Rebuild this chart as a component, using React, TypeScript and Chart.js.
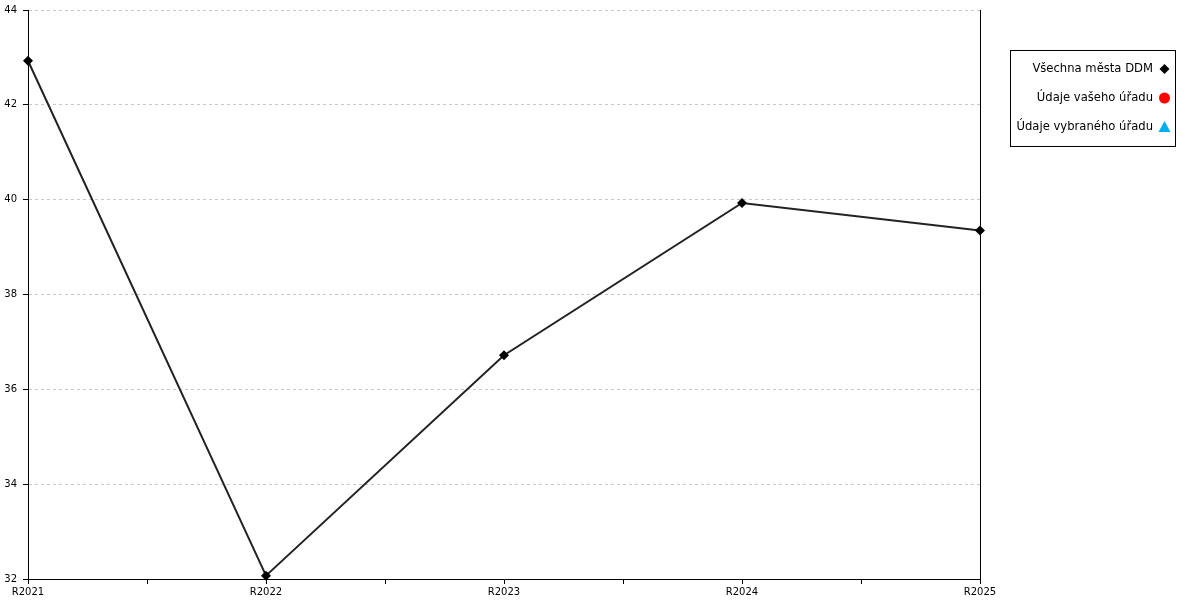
import React, { useEffect, useRef } from 'react';
import { Chart, registerables } from 'chart.js';

Chart.register(...registerables);

const categories = ['R2021', 'R2022', 'R2023', 'R2024', 'R2025'];
const allCitiesValues = [42.93, 32.07, 36.72, 39.93, 39.35];
const yourOfficeValues: number[] = [];
const selectedOfficeValues: number[] = [];
const seriesNames = ['Všechna města DDM', 'Údaje vašeho úřadu', 'Údaje vybraného úřadu'];
const yMin = 32;
const yMax = 44;
const yStep = 2;

const FONT = 'DejaVu Sans';

const legendPlugin = {
  id: 'customLegend',
  afterDraw(chart: any) {
    const ctx = chart.ctx;
    ctx.save();
    const ca = chart.chartArea;
    ctx.strokeStyle = '#000';
    ctx.lineWidth = 1;
    ctx.beginPath();
    ctx.moveTo(Math.round(ca.right) + 0.5, ca.top);
    ctx.lineTo(Math.round(ca.right) + 0.5, ca.bottom + 5);
    ctx.stroke();

    const bx = 1010.5, by = 50.5, bw = 165, bh = 96;
    ctx.strokeStyle = '#000';
    ctx.strokeRect(bx, by, bw, bh);
    ctx.font = `11.6px "${FONT}"`;
    ctx.textAlign = 'right';
    ctx.textBaseline = 'middle';
    const ds = chart.data.datasets;
    ds.forEach((d: any, i: number) => {
      const cy = 69 + i * 29;
      ctx.fillStyle = '#000';
      ctx.fillText(d.label, 1153, cy);
      const mx = 1164.5;
      ctx.fillStyle = d.pointBackgroundColor;
      ctx.beginPath();
      if (d.pointStyle === 'rectRot') {
        const r = 5;
        ctx.moveTo(mx - r, cy);
        ctx.lineTo(mx, cy - r);
        ctx.lineTo(mx + r, cy);
        ctx.lineTo(mx, cy + r);
        ctx.closePath();
      } else if (d.pointStyle === 'circle') {
        ctx.arc(mx, cy, 5.5, 0, Math.PI * 2);
      } else {
        ctx.moveTo(mx, cy - 6);
        ctx.lineTo(mx + 6, cy + 5);
        ctx.lineTo(mx - 6, cy + 5);
        ctx.closePath();
      }
      ctx.fill();
    });
    ctx.restore();
  },
};

export default function App() {
  const ref = useRef<HTMLCanvasElement>(null);
  useEffect(() => {
    if (!ref.current) return;
    const chart = new Chart(ref.current, {
      type: 'line',
      data: {
        datasets: [
          {
            label: seriesNames[0],
            data: allCitiesValues.map((v, i) => ({ x: i, y: v })),
            borderColor: '#222222',
            borderWidth: 2,
            pointStyle: 'rectRot',
            pointRadius: 5,
            pointBackgroundColor: '#000',
            pointBorderColor: '#000',
            pointBorderWidth: 0,
            tension: 0,
            clip: false,
          },
          {
            label: seriesNames[1],
            data: yourOfficeValues.map((v, i) => ({ x: i, y: v })),
            borderColor: '#ff0000',
            pointStyle: 'circle',
            pointBackgroundColor: '#ff0000',
          },
          {
            label: seriesNames[2],
            data: selectedOfficeValues.map((v, i) => ({ x: i, y: v })),
            borderColor: '#00aeef',
            pointStyle: 'triangle',
            pointBackgroundColor: '#00aeef',
          },
        ],
      },
      options: {
        responsive: false,
        animation: false,
        layout: { padding: { left: 0, top: 10, right: 220, bottom: 0 } },
        plugins: { legend: { display: false }, tooltip: { enabled: false } },
        scales: {
          x: {
            type: 'linear',
            min: 0,
            max: categories.length - 1,
            afterBuildTicks: (s: any) => {
              const t = [];
              for (let v = 0; v <= categories.length - 1 + 1e-9; v += 0.5) t.push({ value: v });
              s.ticks = t;
            },
            afterFit: (s: any) => {
              s.height = 21;
            },
            ticks: {
              autoSkip: false,
              maxRotation: 0,
              padding: 2,
              color: '#000',
              font: { family: FONT, size: 10 },
              callback: (v: any) => (Number.isInteger(v) ? categories[v] : ''),
            },
            grid: {
              drawOnChartArea: false,
              drawTicks: true,
              tickLength: 5,
              color: '#000',
              tickColor: '#000',
            },
            border: { display: true, color: '#000', width: 1 },
          },
          y: {
            min: yMin,
            max: yMax,
            afterFit: (s: any) => {
              s.width = 28;
              s.paddingTop = 0;
              s.paddingBottom = 0;
            },
            ticks: {
              stepSize: yStep,
              padding: 6,
              color: '#000',
              font: { family: FONT, size: 10 },
            },
            grid: {
              color: '#c8c8c8',
              tickColor: '#000',
              tickLength: 5,
              drawTicks: true,
            },
            border: { display: true, color: '#000', width: 1, dash: [3, 3] },
          },
        },
      },
      plugins: [legendPlugin],
    });
    return () => chart.destroy();
  }, []);
  return (
    <div style={{ position: 'absolute', left: 0, top: 0, width: 1200, height: 600, background: '#fff' }}>
      <canvas ref={ref} width={1200} height={600} style={{ display: 'block' }} />
    </div>
  );
}
